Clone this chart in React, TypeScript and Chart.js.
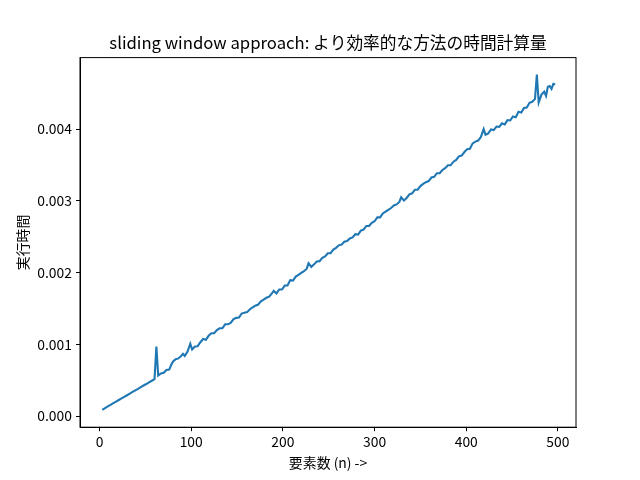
import React, { useEffect, useRef } from "react";
import { Chart, registerables } from "chart.js";

Chart.register(...registerables);

const TITLE = "sliding window approach: より効率的な方法の時間計算量";
const X_LABEL = "要素数 (n) ->";
const Y_LABEL = "実行時間";

const nValues = [
  3, 6, 9, 12, 15, 18, 21, 24, 27, 30, 33, 36, 39, 42, 45, 48, 51, 54, 57, 60,
  62, 64, 67, 70, 73, 76, 78, 80, 83, 86, 89, 91, 93, 96, 99, 101, 104, 107, 110,
  113, 116, 119, 122, 125, 128, 131, 134, 137, 140, 143, 146, 149, 152, 155, 158,
  161, 164, 167, 170, 173, 176, 179, 182, 185, 188, 190, 193, 196, 199, 202, 205,
  208, 211, 214, 217, 220, 223, 226, 228, 231, 234, 237, 240, 243, 246, 249, 252,
  255, 258, 261, 264, 267, 270, 273, 276, 279, 282, 285, 288, 291, 294, 297, 300,
  303, 306, 309, 312, 315, 318, 321, 324, 327, 329, 332, 335, 338, 341, 344, 347,
  350, 353, 356, 359, 362, 365, 368, 371, 374, 377, 380, 383, 386, 389, 392, 395,
  398, 401, 404, 407, 410, 413, 416, 419, 421, 424, 427, 430, 433, 436, 439, 442,
  445, 448, 451, 454, 457, 460, 463, 466, 469, 472, 475, 477, 479, 482, 485, 487,
  489, 491, 493, 495, 497,
];

const execTimes = [
  0.000088, 0.000112, 0.000136, 0.000158, 0.000182, 0.000203, 0.000226, 0.000249, 0.00027, 0.000292,
  0.000316, 0.000338, 0.00036, 0.000382, 0.000405, 0.000428, 0.000448, 0.000472, 0.000494, 0.000518,
  0.00097, 0.000566, 0.000595, 0.000605, 0.000645, 0.00065, 0.00071, 0.00076, 0.000795, 0.000805,
  0.00084, 0.00087, 0.00084, 0.0009, 0.00101, 0.00093,
  0.00097, 0.000975, 0.00103, 0.001075, 0.001065, 0.00112, 0.001155, 0.001155, 0.0012, 0.001225,
  0.001225, 0.00128, 0.00128, 0.0013, 0.00135, 0.00137, 0.001375, 0.00143, 0.00144, 0.00145,
  0.00149, 0.001515, 0.00154, 0.001555, 0.0016, 0.001625, 0.00165, 0.001665, 0.00171, 0.001745,
  0.00171, 0.001765, 0.001765, 0.00182, 0.00182, 0.001895, 0.00189, 0.001945, 0.00197, 0.001995,
  0.00202, 0.002055, 0.00213, 0.00208, 0.002115, 0.002155, 0.00216, 0.002205, 0.002225, 0.00227,
  0.00227, 0.00232, 0.002345, 0.00238, 0.00239, 0.00243, 0.00244, 0.002475, 0.00249, 0.002535,
  0.00253, 0.002585, 0.0026, 0.00265, 0.00265, 0.002695, 0.002715, 0.00277, 0.00277, 0.002825,
  0.00285, 0.002875, 0.0029, 0.002935, 0.00295, 0.002985, 0.00305, 0.003005, 0.00304, 0.00309,
  0.003105, 0.003155, 0.003155, 0.003205, 0.003235, 0.00326, 0.003275, 0.003325, 0.003335, 0.003385,
  0.003385, 0.00343, 0.003455, 0.003495, 0.003495, 0.003545, 0.00357, 0.00362, 0.00363, 0.00368,
  0.00372, 0.003725, 0.0038, 0.003825, 0.00384, 0.00389, 0.004, 0.00392, 0.00394, 0.003995,
  0.003985, 0.004035, 0.00403, 0.00408, 0.004065, 0.004125, 0.00412, 0.004175, 0.004165, 0.00424,
  0.00423, 0.004295, 0.0043, 0.004365, 0.00438, 0.00442, 0.00476, 0.00437, 0.00448, 0.00452,
  0.00446, 0.00459, 0.0046, 0.00456, 0.00463, 0.00462,
];

const xTicks = [0, 100, 200, 300, 400, 500];
const yTicks = [0, 0.001, 0.002, 0.003, 0.004];

const FONT = "'Noto Sans CJK JP', 'Noto Sans', sans-serif";

const labelsPlugin = {
  id: "mplLabels",
  afterDraw(chart: any) {
    const { ctx, chartArea } = chart;
    const { left, right, top, bottom } = chartArea;
    ctx.save();
    ctx.strokeStyle = "#000";
    ctx.lineWidth = 1;
    ctx.strokeRect(left, top, right - left, bottom - top);
    ctx.fillStyle = "#000";
    ctx.textAlign = "center";
    ctx.textBaseline = "middle";
    ctx.font = `16.7px ${FONT}`;
    ctx.fillText(TITLE, (left + right) / 2, 43);
    ctx.font = `13.9px ${FONT}`;
    ctx.fillText(X_LABEL, (left + right) / 2, 463);
    ctx.translate(23, (top + bottom) / 2);
    ctx.rotate(-Math.PI / 2);
    ctx.fillText(Y_LABEL, 0, 0);
    ctx.restore();
  },
};

export default function App() {
  const ref = useRef<HTMLCanvasElement>(null);
  useEffect(() => {
    if (!ref.current) return;
    const chart = new Chart(ref.current, {
      type: "line",
      data: {
        datasets: [
          {
            data: nValues.map((n, i) => ({ x: n, y: execTimes[i] })),
            borderColor: "#1f77b4",
            borderWidth: 2.1,
            pointRadius: 0,
            fill: false,
            tension: 0,
          },
        ],
      },
      options: {
        animation: false,
        responsive: false,
        devicePixelRatio: 1,
        layout: { padding: { left: 0, right: 64, top: 57.6, bottom: 0 } },
        plugins: { legend: { display: false }, tooltip: { enabled: false }, title: { display: false } },
        scales: {
          x: {
            type: "linear",
            min: -21.3,
            max: 519.7,
            afterBuildTicks: (s: any) => {
              s.ticks = xTicks.map((v) => ({ value: v }));
            },
            afterFit: (s: any) => {
              s.height = 480 - 427.2;
            },
            grid: { drawOnChartArea: false, drawTicks: true, tickLength: 4, color: "#000" },
            border: { display: true, color: "#000" },
            ticks: {
              color: "#000",
              font: { family: FONT, size: 13.9 },
              padding: 2,
              maxRotation: 0,
              callback: (v: any) => String(v),
            },
          },
          y: {
            type: "linear",
            min: -0.000153,
            max: 0.004995,
            afterBuildTicks: (s: any) => {
              s.ticks = yTicks.map((v) => ({ value: v }));
            },
            afterFit: (s: any) => {
              s.width = 80;
            },
            grid: { drawOnChartArea: false, drawTicks: true, tickLength: 4, color: "#000" },
            border: { display: true, color: "#000" },
            ticks: {
              color: "#000",
              font: { family: FONT, size: 13.9 },
              padding: 4,
              callback: (v: any) => Number(v).toFixed(3),
            },
          },
        },
      },
      plugins: [labelsPlugin],
    });
    return () => chart.destroy();
  }, []);
  return (
    <div style={{ position: "absolute", left: 0, top: 0, width: 640, height: 480, background: "#fff" }}>
      <canvas ref={ref} width={640} height={480} style={{ width: 640, height: 480, display: "block" }} />
    </div>
  );
}
